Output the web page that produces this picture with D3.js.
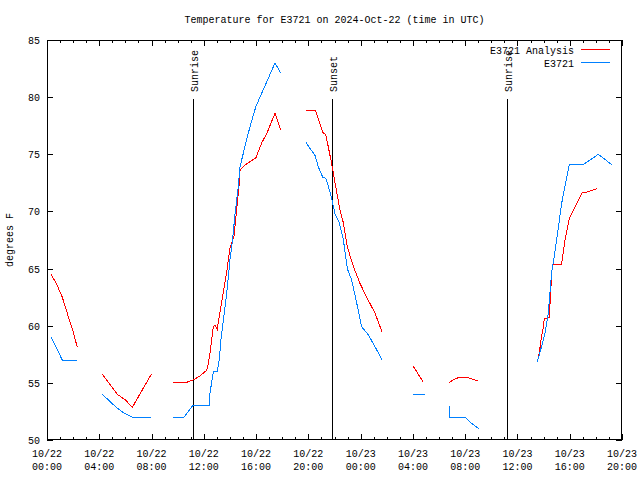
<!DOCTYPE html>
<html>
<head>
<meta charset="utf-8">
<script src="https://cdn.jsdelivr.net/npm/d3@7"></script>
<style>
  body { margin: 0; background: #fff; }
  text { font-family: "Liberation Mono", "DejaVu Sans Mono", monospace; font-size: 10px; fill: #000; }
</style>
</head>
<body>
<script>
// ---- data (hours since 2024-10-22 00:00 UTC) ----
const tickDates = ["10/22","10/22","10/22","10/22","10/22","10/22","10/23","10/23","10/23","10/23","10/23","10/23"];
const tickTimes = ["00:00","04:00","08:00","12:00","16:00","20:00","00:00","04:00","08:00","12:00","16:00","20:00"];
const yTicks = [50, 55, 60, 65, 70, 75, 80, 85];

const analysisHours = [0.31,0.75,1.17,1.63,2.0,2.32, null,
  4.23,4.8,5.38,6.0,6.53,7.25,7.98, null,
  9.62,10.56,11.2,11.7,12.22,12.35,12.47,12.6,12.73,12.86,13.03,13.19,13.5,13.75,14.0,14.31,14.51,14.69,14.77,15.15,15.99,16.43,16.81,17.45,17.88, null,
  19.82,20.56,21.15,21.33,21.78,22.04,22.42,22.68,22.98,23.44,23.95,24.46,25.1,25.66, null,
  28.0,28.8, null,
  30.79,31.09,31.55,32.16,32.57,33.0, null,
  37.52,37.67,37.8,37.98,38.05,38.44,38.54,38.67,39.38,39.64,39.97,40.4,40.92,41.3,42.1];
const analysisValues = [64.5,63.6,62.5,60.8,59.5,58.1, null,
  55.75,54.9,54.0,53.5,52.86,54.3,55.75, null,
  55.0,55.0,55.25,55.6,56.1,56.7,57.6,58.8,59.9,60.06,59.7,60.9,63.0,64.7,66.8,67.8,70.1,72.2,73.6,74.06,74.7,76.0,76.8,78.6,77.1, null,
  78.8,78.8,76.8,76.75,74.2,72.5,70.1,69.0,66.9,65.2,63.7,62.5,61.1,59.4, null,
  56.5,55.05, null,
  55.05,55.25,55.5,55.5,55.3,55.2, null,
  56.85,57.6,58.75,59.9,60.6,60.7,63.0,65.4,65.4,67.5,69.4,70.4,71.6,71.7,72.0];

const obsHours = [0.31,1.17,2.32, null,
  4.23,5.26,5.84,6.53,7.98, null,
  9.62,10.48,11.15,12.4,12.47,12.73,13.03,13.19,13.31,13.5,13.75,14.0,14.21,14.39,14.64,14.77,15.15,15.53,15.99,16.3,17.45,17.88, null,
  19.82,20.13,20.51,20.76,21.1,21.33,21.53,21.78,22.04,22.37,22.68,22.98,23.31,23.65,24.08,24.59,25.18,25.64, null,
  28.0,28.9, null,
  30.79,30.8,31.99,32.5,33.08, null,
  37.52,37.85,38.1,38.36,38.62,38.74,39.0,39.38,39.97,41.04,42.19,43.21];
const obsValues = [59.0,57.0,57.0, null,
  54.0,52.9,52.4,52.0,52.0, null,
  52.0,52.0,53.0,53.0,54.1,56.0,56.0,57.1,58.75,60.5,62.8,65.75,67.65,69.8,72.2,73.9,75.7,77.4,79.2,80.0,83.0,82.1, null,
  76.05,75.5,74.9,73.9,73.0,72.9,72.2,71.15,69.8,69.0,67.5,65.0,64.0,62.25,59.9,59.2,58.0,57.0, null,
  54.0,54.0, null,
  53.0,52.0,52.0,51.45,50.95, null,
  56.85,58.2,59.3,61.1,64.7,65.5,67.5,70.7,74.1,74.1,75.0,74.1];

const eventHours = [11.2, 21.83, 35.23];
const eventLabels = ["Sunrise", "Sunset", "Sunrise"];

const seriesNames = ["E3721 Analysis", "E3721"];
const seriesColors = ["#ff0000", "#0080ff"];

// ---- layout ----
const W = 640, H = 480;
const mLeft = 47, mRight = 622, mTop = 40, mBottom = 440;

const svg = d3.select("body").append("svg").attr("width", W).attr("height", H);

const x = d3.scaleLinear().domain([0, 44]).range([mLeft, mRight]);
const y = d3.scaleLinear().domain([50, 85]).range([mBottom, mTop]);

// title
svg.append("text").attr("x", 334.5).attr("y", 23).attr("text-anchor", "middle")
  .text("Temperature for E3721 on 2024-Oct-22 (time in UTC)");

// y axis label
svg.append("text").attr("transform", "translate(13,240) rotate(-90)").attr("text-anchor", "middle")
  .text("degrees F");

// ticks
const g = svg.append("g").attr("shape-rendering", "crispEdges").attr("stroke", "#000").attr("stroke-width", 1);
d3.range(0, 45, 1).forEach(h => {
  const len = (h % 4 === 0) ? 6 : 3;
  const px = Math.round(x(h)) + 0.5;
  g.append("line").attr("x1", px).attr("x2", px).attr("y1", mBottom).attr("y2", mBottom - len);
  g.append("line").attr("x1", px).attr("x2", px).attr("y1", mTop).attr("y2", mTop + len);
});
yTicks.forEach(v => {
  const py = Math.round(y(v)) + 0.5;
  g.append("line").attr("x1", mLeft).attr("x2", mLeft + 6).attr("y1", py).attr("y2", py);
  g.append("line").attr("x1", mRight).attr("x2", mRight - 6).attr("y1", py).attr("y2", py);
});

// y tick labels
yTicks.forEach(v => {
  svg.append("text").attr("x", 40).attr("y", y(v) + 4).attr("text-anchor", "end").text(v);
});

// x tick labels
d3.range(0, 45, 4).forEach((h, i) => {
  const t = svg.append("text").attr("text-anchor", "middle");
  t.append("tspan").attr("x", x(h)).attr("y", 457).text(tickDates[i]);
  t.append("tspan").attr("x", x(h)).attr("y", 470).text(tickTimes[i]);
});

// event lines
eventHours.forEach((h, i) => {
  const px = Math.round(x(h)) + 0.5;
  g.append("line").attr("x1", px).attr("x2", px).attr("y1", 99).attr("y2", mBottom);
  svg.append("text").attr("transform", `translate(${px + 4.5},92) rotate(-90)`).attr("text-anchor", "start")
    .text(eventLabels[i]);
});

// series
function pts(hours, vals) { return hours.map((h, i) => [h, vals[i]]); }
const line = d3.line().defined(d => d[0] !== null && d[1] !== null).x(d => x(d[0])).y(d => y(d[1]));

svg.append("path").datum(pts(analysisHours, analysisValues))
  .attr("d", line).attr("fill", "none").attr("stroke", seriesColors[0]).attr("stroke-width", 1)
  .attr("shape-rendering", "crispEdges");
svg.append("path").datum(pts(obsHours, obsValues))
  .attr("d", line).attr("fill", "none").attr("stroke", seriesColors[1]).attr("stroke-width", 1)
  .attr("shape-rendering", "crispEdges");

// legend
seriesNames.forEach((name, i) => {
  const ly = 49.5 + i * 13;
  svg.append("text").attr("x", 574).attr("y", ly + 4).attr("text-anchor", "end").text(name);
  svg.append("line").attr("x1", 581).attr("x2", 610).attr("y1", ly).attr("y2", ly)
    .attr("stroke", seriesColors[i]).attr("stroke-width", 1).attr("shape-rendering", "crispEdges");
});

// border
svg.append("rect").attr("x", mLeft + 0.5).attr("y", mTop + 0.5).attr("width", mRight - mLeft - 1).attr("height", mBottom - mTop - 1)
  .attr("fill", "none").attr("stroke", "#000").attr("stroke-width", 1).attr("shape-rendering", "crispEdges");
</script>
</body>
</html>
